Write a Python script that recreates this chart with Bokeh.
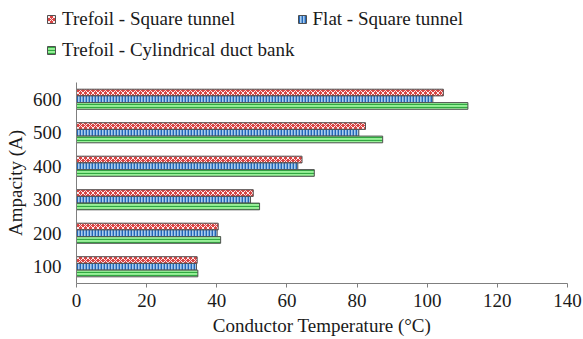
from bokeh.plotting import figure
from bokeh.models import ColumnDataSource, Legend, LegendItem, FixedTicker, Range1d
from bokeh.transform import dodge
from bokeh.embed import file_html
from bokeh.resources import INLINE

ampacity = [100, 200, 300, 400, 500, 600]
trefoil_square = [34.4, 40.4, 50.4, 64.3, 82.4, 104.6]
flat_square = [34.2, 40.1, 49.6, 63.1, 80.5, 101.6]
trefoil_duct = [34.6, 41.1, 52.2, 67.8, 87.3, 111.6]
series_names = ["Trefoil - Square tunnel", "Flat - Square tunnel", "Trefoil - Cylindrical duct bank"]
x_ticks = [0, 20, 40, 60, 80, 100, 120, 140]

FONT = "Liberation Serif"
FS = "19px"
styles = [
    dict(fill_color="#d94444", hatch_pattern="diagonal_cross", hatch_color="#ffffff",
         hatch_scale=5, hatch_weight=0.9, line_color="#505050", line_width=1),
    dict(fill_color="#a9cdef", hatch_pattern="vertical_line", hatch_color="#2367b8",
         hatch_scale=3, hatch_weight=1.8, line_color="#505050", line_width=1),
    dict(fill_color="#98f098", hatch_pattern="horizontal_line", hatch_color="#30a840",
         hatch_scale=3, hatch_weight=1.2, line_color="#505050", line_width=1),
]

# layout (pixels of the figure)
W, H = 583, 339
frame_l, frame_r, frame_t, frame_b = 76, 567, 82, 283
x_lo, x_hi, y_lo, y_hi = 0, 140, 50, 650
sx = (frame_r - frame_l) / (x_hi - x_lo)
sy = (frame_b - frame_t) / (y_hi - y_lo)
xr = Range1d(x_lo - frame_l / sx, x_hi + (W - frame_r) / sx)
yr = Range1d(y_lo - (H - frame_b) / sy, y_hi + frame_t / sy)

src = ColumnDataSource(dict(amp=ampacity, ts=trefoil_square, fs=flat_square, td=trefoil_duct))

p = figure(width=W, height=H, output_backend="svg", toolbar_location=None,
           x_range=xr, y_range=yr, min_border=0)
p.outline_line_color = None
p.grid.visible = False

offsets = [20, 0, -20]
cols = ["ts", "fs", "td"]
renderers = []
for c, off, st in zip(cols, offsets, styles):
    r = p.hbar(y=dodge("amp", off), right=c, left=0, height=20, source=src, **st)
    renderers.append(r)

p.xaxis.ticker = FixedTicker(ticks=x_ticks)
p.yaxis.ticker = FixedTicker(ticks=ampacity)
p.xaxis.axis_label = "Conductor Temperature (°C)"
p.yaxis.axis_label = "Ampacity (A)"
p.xaxis.fixed_location = y_lo
p.yaxis.fixed_location = x_lo
p.xaxis.bounds = (x_lo, x_hi)
p.yaxis.bounds = (y_lo, y_hi)
for ax in (p.xaxis[0], p.yaxis[0]):
    ax.axis_line_color = "#7f7f7f"
    ax.major_tick_line_color = "#7f7f7f"
    ax.minor_tick_line_color = None
    ax.major_label_text_font = FONT
    ax.major_label_text_font_size = FS
    ax.major_label_text_color = "#1a1a1a"
    ax.axis_label_text_font = FONT
    ax.axis_label_text_font_size = FS
    ax.axis_label_text_font_style = "normal"
    ax.axis_label_text_color = "#1a1a1a"
p.xaxis.major_tick_in = 0
p.xaxis.major_tick_out = 4
p.xaxis.major_label_standoff = 6
p.xaxis.axis_label_standoff = 5
p.yaxis.major_tick_in = 0
p.yaxis.major_tick_out = 0
p.yaxis.major_tick_line_color = None
p.yaxis.major_label_standoff = 15
p.yaxis.axis_label_standoff = 4

# legend: column-major with 2 columns -> order TS, TD | FS
order = [0, 2, 1]
items = [LegendItem(label=series_names[i], renderers=[renderers[i]]) for i in order]
legend = Legend(items=items, ncols=2, location=(46, 275), padding=0, margin=0, spacing=2,
                glyph_width=10, glyph_height=10, label_height=29, label_standoff=6,
                label_text_font=FONT, label_text_font_size=FS, label_text_color="#1a1a1a",
                border_line_color=None, background_fill_alpha=0)
p.add_layout(legend, "center")

open("out.html", "w").write(file_html(p, INLINE))
